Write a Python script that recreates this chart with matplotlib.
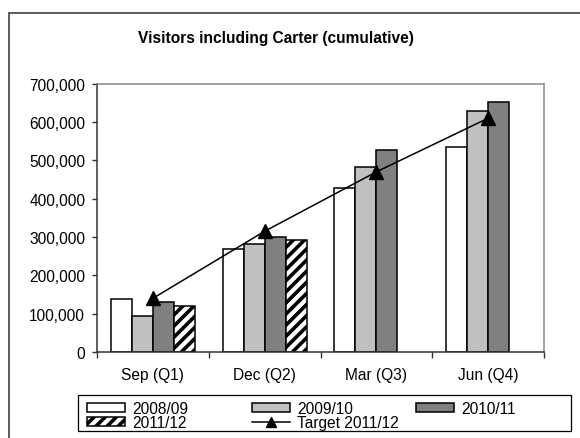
import numpy as np
import matplotlib
matplotlib.use("Agg")
import matplotlib.pyplot as plt
from matplotlib.patches import Rectangle
from matplotlib.ticker import FuncFormatter, FixedLocator

plt.rcParams['font.family'] = ['Liberation Sans', 'DejaVu Sans']
plt.rcParams['hatch.linewidth'] = 2.6

categories = ["Sep (Q1)", "Dec (Q2)", "Mar (Q3)", "Jun (Q4)"]
s2008_09 = [137000, 269000, 429000, 536000]
s2009_10 = [95000, 283000, 482000, 628000]
s2010_11 = [130000, 301000, 527000, 652000]
s2011_12 = [121000, 291000]
target_2011_12 = [140000, 315000, 470000, 610000]
title = "Visitors including Carter (cumulative)"

W, H = 580, 439
FS = 11.2
fig = plt.figure(figsize=(W / 100, H / 100), dpi=100)
ax = fig.add_axes([97 / W, 1 - 353 / H, (544 - 97) / W, (353 - 84.7) / H])

x = np.arange(len(categories))
w = 0.1875
ekw = dict(edgecolor='black', linewidth=1.1)
b1 = ax.bar(x - 1.5 * w, s2008_09, w, color='white', **ekw)
b2 = ax.bar(x - 0.5 * w, s2009_10, w, color='#C0C0C0', **ekw)
b3 = ax.bar(x + 0.5 * w, s2010_11, w, color='#808080', **ekw)
b4 = ax.bar(x[:len(s2011_12)] + 1.5 * w, s2011_12, w, color='white', hatch='///', **ekw)
ln, = ax.plot(x, target_2011_12, color='black', linewidth=1.1, marker='^', markersize=10, zorder=5)

ax.set_xlim(-0.5, 3.5)
ax.set_ylim(0, 700000)
ax.yaxis.set_major_locator(FixedLocator(np.arange(0, 700001, 100000)))
ax.yaxis.set_major_formatter(FuncFormatter(lambda v, p: f"{int(v):,}"))
ax.xaxis.set_major_locator(FixedLocator(np.arange(-0.5, 3.6, 1.0)))
ax.xaxis.set_major_formatter(FuncFormatter(lambda v, p: ""))
ax.xaxis.set_minor_locator(FixedLocator(x))
ax.set_xticklabels(categories, minor=True)
ax.tick_params(axis='x', which='major', direction='out', length=4, width=1, color='#333333')
ax.tick_params(axis='x', which='minor', length=0, pad=11, labelsize=FS)
ax.tick_params(axis='y', direction='out', length=3.5, width=1, color='#333333', pad=5, labelsize=FS)

for s in ['left', 'bottom']:
    ax.spines[s].set_color('#333333')
    ax.spines[s].set_linewidth(1.1)
for s in ['top', 'right']:
    ax.spines[s].set_color('#888888')
    ax.spines[s].set_linewidth(1.1)

fig.text(275.5 / W, 1 - 38 / H, title, ha='center', va='center', fontsize=FS, fontweight='bold')

# outer frame
fig.patches.append(Rectangle((9 / W, -0.1), 1.1, 1 - 14 / H + 0.1, transform=fig.transFigure,
                             fill=False, edgecolor='#404040', linewidth=1.2))
# legend frame
fig.patches.append(Rectangle((78 / W, 1 - 432 / H), (571 - 78) / W, 36 / H, transform=fig.transFigure,
                             fill=False, edgecolor='black', linewidth=0.9))

lkw = dict(loc='upper left', frameon=False, borderpad=0, borderaxespad=0,
           handlelength=38 / 15.5, handleheight=0.5, handletextpad=7 / 15.5,
           labelspacing=-0.05, fontsize=FS, markerscale=0.7)
top = 1 - 402 / H
fig.legend([b1, b4], ['2008/09', '2011/12'], bbox_to_anchor=(87 / W, top), **lkw)
fig.legend([b2, ln], ['2009/10', 'Target 2011/12'], bbox_to_anchor=(252 / W, top), **lkw)
fig.legend([b3], ['2010/11'], bbox_to_anchor=(416 / W, top), **lkw)

fig.savefig('out.png', dpi=100)
